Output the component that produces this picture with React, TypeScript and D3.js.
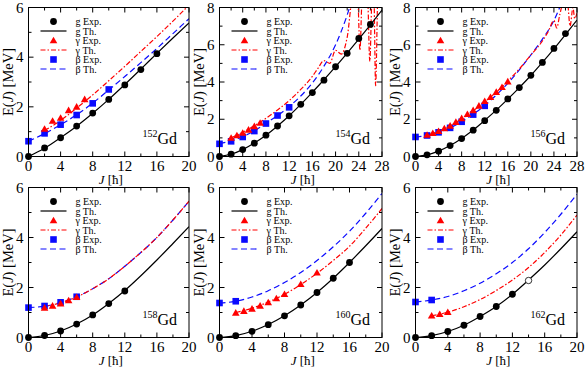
import React from 'react';
import * as d3 from 'd3';

// ---- data: [J, E(MeV)] ----
const gd152_gExp = [[0, 0], [2, 0.344], [4, 0.755], [6, 1.227], [8, 1.747], [10, 2.3], [12, 2.883], [14, 3.5], [16, 4.14]];
const gd152_gTh = [[0, 0], [2, 0.33], [4, 0.76], [6, 1.22], [8, 1.74], [10, 2.3], [12, 2.9], [14, 3.52], [16, 4.15], [18, 4.77], [20, 5.38]];
const gd152_yExp = [[2, 1.11], [3, 1.43], [4, 1.55], [5, 1.86], [6, 2.0], [7, 2.3]];
const gd152_yTh = [[2, 1.05], [4, 1.45], [6, 1.95], [8, 2.48], [10, 3.05], [12, 3.63], [14, 4.23], [16, 4.83], [18, 5.45], [20, 6.1]];
const gd152_bExp = [[0, 0.615], [2, 0.931], [4, 1.282], [6, 1.67], [8, 2.14], [10, 2.7]];
const gd152_bTh = [[0, 0.62], [2, 0.92], [4, 1.28], [6, 1.68], [8, 2.15], [10, 2.68], [12, 3.22], [14, 3.78], [16, 4.35], [18, 4.95], [20, 5.55]];

const gd154_gExp = [[0, 0], [2, 0.123], [4, 0.371], [6, 0.718], [8, 1.144], [10, 1.637], [12, 2.184], [14, 2.8], [16, 3.43], [18, 4.1], [20, 4.82], [22, 5.54], [24, 6.34], [26, 7.09]];
const gd154_gTh = [[0, 0], [2, 0.125], [4, 0.37], [6, 0.72], [8, 1.14], [10, 1.64], [12, 2.19], [14, 2.8], [16, 3.45], [18, 4.12], [20, 4.82], [22, 5.55], [24, 6.3], [26, 7.07], [28, 7.86]];
const gd154_yExp = [[2, 0.996], [3, 1.128], [4, 1.264], [5, 1.432], [6, 1.62], [7, 1.8]];
const gd154_yTh = [[2, 1.0], [4, 1.3], [6, 1.65], [8, 2.05], [10, 2.5], [12, 3.0], [14, 3.6], [16, 4.3], [17, 4.75], [18, 5.15], [19, 5.0], [20, 5.7], [21, 5.5], [22, 6.4], [23, 8.6], [23.8, 8.6], [24.2, 5.7], [24.6, 8.6], [25.5, 8.6], [25.9, 5.1], [26.3, 8.6], [26.6, 8.6], [26.9, 3.8], [27.3, 8.6], [28, 8.6]];
const gd154_bExp = [[0, 0.681], [2, 0.815], [4, 1.048], [6, 1.366], [8, 1.77], [10, 2.2], [12, 2.64]];
const gd154_bTh = [[0, 0.7], [2, 0.84], [4, 1.07], [6, 1.37], [8, 1.78], [10, 2.2], [12, 2.68], [14, 3.25], [16, 3.95], [18, 4.85], [20, 6.0], [22, 7.6], [23, 8.6]];

const gd156_gExp = [[0, 0], [2, 0.089], [4, 0.288], [6, 0.585], [8, 0.965], [10, 1.416], [12, 1.924], [14, 2.48], [16, 3.09], [18, 3.7], [20, 4.36], [22, 5.05], [24, 5.8], [26, 6.6]];
const gd156_gTh = [[0, 0], [2, 0.09], [4, 0.29], [6, 0.59], [8, 0.97], [10, 1.42], [12, 1.94], [14, 2.49], [16, 3.08], [18, 3.7], [20, 4.35], [22, 5.05], [24, 5.78], [26, 6.55], [28, 7.32]];
const gd156_yExp = [[2, 1.154], [3, 1.248], [4, 1.355], [5, 1.507], [6, 1.645], [7, 1.851], [8, 2.05], [9, 2.27], [10, 2.48], [11, 2.72], [12, 2.97], [13, 3.18], [14, 3.46], [15, 3.72], [16, 4.02]];
const gd156_yTh = [[2, 1.15], [4, 1.35], [6, 1.65], [8, 2.02], [10, 2.45], [12, 2.93], [14, 3.45], [16, 4.05], [18, 4.7], [20, 5.45], [22, 6.2], [23, 6.7], [24, 7.3], [24.5, 6.9], [25, 7.6], [25.8, 8.4], [26.3, 8.4], [26.8, 7.0], [27.3, 8.0], [27.6, 7.4], [28, 7.7]];
const gd156_bExp = [[0, 1.049], [2, 1.129], [4, 1.298], [6, 1.538], [8, 1.865], [10, 2.25], [12, 2.72]];
const gd156_bTh = [[0, 1.05], [2, 1.13], [4, 1.3], [6, 1.54], [8, 1.87], [10, 2.27], [12, 2.75], [14, 3.3], [16, 3.93], [18, 4.65], [20, 5.45], [22, 6.3], [24, 7.3], [25.5, 8.4]];

const gd158_gExp = [[0, 0], [2, 0.08], [4, 0.261], [6, 0.539], [8, 0.904], [10, 1.358], [12, 1.86]];
const gd158_gTh = [[0, 0], [2, 0.08], [4, 0.26], [6, 0.54], [8, 0.9], [10, 1.36], [12, 1.88], [14, 2.47], [16, 3.1], [18, 3.76], [20, 4.43]];
const gd158_yExp = [[2, 1.187], [3, 1.265], [4, 1.358], [5, 1.48], [6, 1.61]];
const gd158_yTh = [[2, 1.24], [4, 1.39], [6, 1.62], [8, 1.95], [10, 2.35], [12, 2.85], [14, 3.4], [16, 4.0], [18, 4.7], [20, 5.45]];
const gd158_bExp = [[0, 1.196], [2, 1.26], [4, 1.407], [6, 1.63]];
const gd158_bTh = [[0, 1.2], [2, 1.25], [4, 1.4], [6, 1.63], [8, 1.95], [10, 2.35], [12, 2.85], [14, 3.4], [16, 4.0], [18, 4.7], [20, 5.45]];

const gd160_gExp = [[0, 0], [2, 0.075], [4, 0.248], [6, 0.515], [8, 0.868], [10, 1.3], [12, 1.8], [14, 2.37], [16, 3.0]];
const gd160_gTh = [[0, 0], [2, 0.075], [4, 0.25], [6, 0.52], [8, 0.87], [10, 1.3], [12, 1.8], [14, 2.37], [16, 3.0], [18, 3.67], [20, 4.36]];
const gd160_yExp = [[2, 0.989], [3, 1.057], [4, 1.148], [5, 1.264], [6, 1.4], [7, 1.56], [8, 1.73], [10, 2.13], [12, 2.59]];
const gd160_yTh = [[2, 1.0], [4, 1.17], [6, 1.42], [8, 1.73], [10, 2.12], [12, 2.57], [14, 3.08], [16, 3.65], [18, 4.37], [20, 5.16]];
const gd160_bExp = [[0, 1.38], [2, 1.45]];
const gd160_bTh = [[0, 1.38], [2, 1.45], [4, 1.62], [6, 1.87], [8, 2.2], [10, 2.6], [12, 3.08], [14, 3.63], [16, 4.25], [18, 4.97], [20, 5.76]];

const gd162_gExp = [[0, 0], [2, 0.072], [4, 0.24], [6, 0.49], [8, 0.84], [10, 1.24], [12, 1.73]];
const gd162_gExpOpen = [[14, 2.28]];
const gd162_gTh = [[0, 0], [2, 0.072], [4, 0.24], [6, 0.49], [8, 0.84], [10, 1.24], [12, 1.73], [14, 2.3], [16, 2.9], [18, 3.55], [20, 4.23]];
const gd162_yExp = [[2, 0.87], [3, 0.93], [4, 1.01]];
const gd162_yTh = [[2, 0.87], [4, 1.01], [6, 1.23], [8, 1.52], [10, 1.88], [12, 2.3], [14, 2.8], [16, 3.4], [18, 4.1], [20, 4.9]];
const gd162_bExp = [[0, 1.42], [2, 1.5]];
const gd162_bTh = [[0, 1.42], [2, 1.5], [4, 1.64], [6, 1.87], [8, 2.17], [10, 2.55], [12, 3.0], [14, 3.55], [16, 4.2], [18, 4.93], [20, 5.73]];

const xTicks20 = [0, 4, 8, 12, 16, 20];
const xTicks28 = [0, 4, 8, 12, 16, 20, 24, 28];
const yTicks6 = [0, 2, 4, 6];
const yTicks8 = [0, 2, 4, 6, 8];
const legendLabels = ['g Exp.', 'g Th.', 'γ Exp.', 'γ Th.', 'β Exp.', 'β Th.'];

const panels = [
  { mass: '152', xTicks: xTicks20, yTicks: yTicks6, gExp: gd152_gExp, gTh: gd152_gTh, yExp: gd152_yExp, yTh: gd152_yTh, bExp: gd152_bExp, bTh: gd152_bTh },
  { mass: '154', xTicks: xTicks28, yTicks: yTicks8, gExp: gd154_gExp, gTh: gd154_gTh, yExp: gd154_yExp, yTh: gd154_yTh, bExp: gd154_bExp, bTh: gd154_bTh },
  { mass: '156', xTicks: xTicks28, yTicks: yTicks8, gExp: gd156_gExp, gTh: gd156_gTh, yExp: gd156_yExp, yTh: gd156_yTh, bExp: gd156_bExp, bTh: gd156_bTh },
  { mass: '158', xTicks: xTicks20, yTicks: yTicks6, gExp: gd158_gExp, gTh: gd158_gTh, yExp: gd158_yExp, yTh: gd158_yTh, bExp: gd158_bExp, bTh: gd158_bTh },
  { mass: '160', xTicks: xTicks20, yTicks: yTicks6, gExp: gd160_gExp, gTh: gd160_gTh, yExp: gd160_yExp, yTh: gd160_yTh, bExp: gd160_bExp, bTh: gd160_bTh },
  { mass: '162', xTicks: xTicks20, yTicks: yTicks6, gExp: gd162_gExp, gTh: gd162_gTh, yExp: gd162_yExp, yTh: gd162_yTh, bExp: gd162_bExp, bTh: gd162_bTh, open: gd162_gExpOpen },
];

const colX = [[28.5, 189], [219.5, 382], [415.5, 577]];
const rowY = [[7.5, 156.5], [187.5, 337.5]];
const RED = '#ff0000';
const BLUE = '#0a0aff';
const FONT = '"Liberation Serif", "Times New Roman", serif';

const Tri = ({ x, y, s = 3.8, fill = RED }) => (
  <path d={`M${x},${y - s}L${x + s},${y + s * 0.75}L${x - s},${y + s * 0.75}Z`} fill={fill} />
);

function Panel({ p, i }) {
  const [x0, x1] = colX[i % 3];
  const [y0, y1] = rowY[Math.floor(i / 3)];
  const xMax = p.xTicks[p.xTicks.length - 1];
  const yMax = p.yTicks[p.yTicks.length - 1];
  const x = d3.scaleLinear().domain([0, xMax]).range([x0, x1]);
  const y = d3.scaleLinear().domain([0, yMax]).range([y1, y0]);
  const line = d3.line().x(d => x(d[0])).y(d => y(d[1])).curve(d3.curveMonotoneX);
  const clipId = `clip${i}`;
  const xMinor = d3.range(0, xMax + 0.01, 2);
  const yMinor = d3.range(0, yMax + 0.01, 1);
  const lx = x0 + 25, ly = y0 + 14, dy = 9.5;

  return (
    <g>
      <defs>
        <clipPath id={clipId}><rect x={x0} y={y0} width={x1 - x0} height={y1 - y0} /></clipPath>
      </defs>
      {/* ticks, inward on all four sides */}
      {xMinor.map(t => {
        const len = p.xTicks.includes(t) ? 5 : 3;
        return (
          <g key={'xt' + t} stroke="#000" strokeWidth={1}>
            <line x1={x(t)} x2={x(t)} y1={y1} y2={y1 - len} />
            <line x1={x(t)} x2={x(t)} y1={y0} y2={y0 + len} />
          </g>
        );
      })}
      {yMinor.map(t => {
        const len = p.yTicks.includes(t) ? 5 : 3;
        return (
          <g key={'yt' + t} stroke="#000" strokeWidth={1}>
            <line x1={x0} x2={x0 + len} y1={y(t)} y2={y(t)} />
            <line x1={x1} x2={x1 - len} y1={y(t)} y2={y(t)} />
          </g>
        );
      })}
      {p.xTicks.map(t => (
        <text key={'xl' + t} x={x(t)} y={y1 + 14.5} textAnchor="middle" fontSize={15} fontFamily={FONT}>{t}</text>
      ))}
      {p.yTicks.map(t => (
        <text key={'yl' + t} x={x0 - 5} y={y(t) + 5} textAnchor="end" fontSize={15} fontFamily={FONT}>{t}</text>
      ))}
      <text x={(x0 + x1) / 2 + 2} y={y1 + 27} textAnchor="middle" fontSize={13} fontFamily={FONT}>
        <tspan fontStyle="italic">J</tspan> [ħ]
      </text>
      <text transform={`translate(${x0 - 16},${(y0 + y1) / 2}) rotate(-90)`} textAnchor="middle" fontSize={14.5} fontFamily={FONT}>
        E(<tspan fontStyle="italic">J</tspan>) [MeV]
      </text>

      {/* curves */}
      <g clipPath={`url(#${clipId})`} fill="none">
        <path d={line(p.bTh)} stroke={BLUE} strokeWidth={1.2} strokeDasharray="6,3.5" />
        <path d={line(p.yTh)} stroke={RED} strokeWidth={1.2} strokeDasharray="5,2,1.5,2" />
        <path d={line(p.gTh)} stroke="#000" strokeWidth={1.2} />
      </g>
      {p.bExp.map((d, k) => (
        <rect key={'b' + k} x={x(d[0]) - 3.3} y={y(d[1]) - 3.3} width={6.6} height={6.6} fill={BLUE} />
      ))}
      {p.yExp.map((d, k) => <Tri key={'y' + k} x={x(d[0])} y={y(d[1])} />)}
      {p.gExp.map((d, k) => (
        <circle key={'g' + k} cx={x(d[0])} cy={y(d[1])} r={3.4} fill="#000" />
      ))}
      {(p.open || []).map((d, k) => (
        <circle key={'o' + k} cx={x(d[0])} cy={y(d[1])} r={3.2} fill="#fff" stroke="#000" strokeWidth={0.8} />
      ))}

      {/* legend */}
      <circle cx={lx} cy={ly} r={3.4} fill="#000" />
      <line x1={lx - 13} x2={lx + 13} y1={ly + dy} y2={ly + dy} stroke="#000" strokeWidth={1.2} />
      <Tri x={lx} y={ly + 2 * dy} />
      <line x1={lx - 13} x2={lx + 13} y1={ly + 3 * dy} y2={ly + 3 * dy} stroke={RED} strokeWidth={1.2} strokeDasharray="5,2,1.5,2" />
      <rect x={lx - 3.3} y={ly + 4 * dy - 3.3} width={6.6} height={6.6} fill={BLUE} />
      <line x1={lx - 13} x2={lx + 13} y1={ly + 5 * dy} y2={ly + 5 * dy} stroke={BLUE} strokeWidth={1.2} strokeDasharray="6,3.5" />
      {legendLabels.map((s, k) => (
        <text key={'lg' + k} x={lx + 22} y={ly + k * dy + 3.5} fontSize={10} fontFamily={FONT}>{s}</text>
      ))}

      <text x={x1 - 12} y={y1 - 13} textAnchor="end" fontSize={16} fontFamily={FONT}>
        <tspan fontSize={10} dy={-7}>{p.mass}</tspan><tspan dy={7}>Gd</tspan>
      </text>

      <rect x={x0} y={y0} width={x1 - x0} height={y1 - y0} fill="none" stroke="#000" strokeWidth={1} />
    </g>
  );
}

export default function App() {
  return (
    <svg width={586} height={369} style={{ position: 'absolute', left: 0, top: 0, background: '#fff' }}>
      <rect width={586} height={369} fill="#fff" />
      {panels.map((p, i) => <Panel key={p.mass} p={p} i={i} />)}
    </svg>
  );
}
